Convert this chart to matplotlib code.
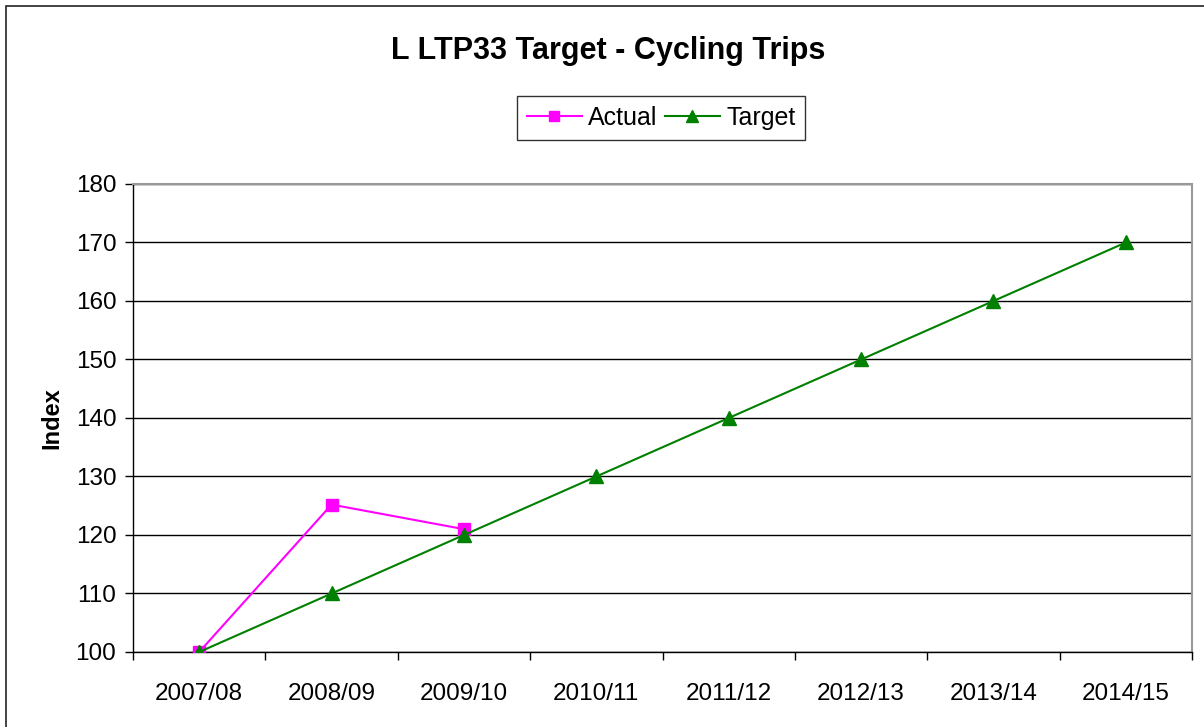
import matplotlib.pyplot as plt
from matplotlib.patches import Rectangle
import numpy as np

plt.rcParams['font.family'] = ['Liberation Sans', 'DejaVu Sans']

years = ['2007/08', '2008/09', '2009/10', '2010/11', '2011/12', '2012/13', '2013/14', '2014/15']
actual = [100, 125.2, 121]
target = [100, 110, 120, 130, 140, 150, 160, 170]

fig = plt.figure(figsize=(12.04, 7.27), dpi=100)
ax = fig.add_axes([133 / 1204, 1 - 652 / 727, (1192 - 133) / 1204, (652 - 184) / 727])

# outer chart border (right and bottom edges run off the image)
fig.patches.append(Rectangle((6 / 1204, -0.05), 1.2, 1 - 6 / 727 + 0.05,
                             transform=fig.transFigure, fill=False,
                             edgecolor='#222222', linewidth=1.2))

x = np.arange(len(years))
ax.plot(x[:len(actual)], actual, color='#ff00ff', linewidth=1.5, marker='s',
        markersize=9, label='Actual', zorder=3)
ax.plot(x, target, color='#008000', linewidth=1.5, marker='^',
        markersize=10, label='Target', zorder=3)

ax.set_xlim(-0.5, len(years) - 0.5)
ax.set_ylim(100, 180)
ax.set_yticks(range(100, 181, 10))
ax.set_xticks(x)
ax.set_xticklabels(years)
ax.set_xticks(np.arange(-0.5, len(years), 1), minor=True)
ax.tick_params(axis='x', which='major', length=0, pad=22, labelsize=17.5)
ax.tick_params(axis='x', which='minor', length=6, width=1, color='black', direction='out')
ax.tick_params(axis='y', length=6, width=1, direction='out', pad=6, labelsize=17.5)
ax.yaxis.grid(True, color='black', linewidth=1)
ax.set_axisbelow(True)

for side in ['top', 'right']:
    ax.spines[side].set_color('#999999')
    ax.spines[side].set_linewidth(1.5)
for side in ['left', 'bottom']:
    ax.spines[side].set_color('black')
    ax.spines[side].set_linewidth(1)

ax.set_ylabel('Index', fontsize=17, fontweight='bold', labelpad=9)
fig.text(608 / 1204, 1 - 51 / 727, 'L LTP33 Target - Cycling Trips', fontsize=22,
         fontweight='bold', ha='center', va='center')

leg = fig.legend(loc='center', bbox_to_anchor=(661 / 1204, 1 - 118 / 727), ncol=2,
                 fontsize=18, frameon=True, fancybox=False, handlelength=2.2,
                 handletextpad=0.25, columnspacing=0.3, borderpad=0.4, markerscale=0.8)
leg.get_frame().set_edgecolor('black')
leg.get_frame().set_linewidth(1)

plt.savefig('out.png', dpi=100)
plt.close()
